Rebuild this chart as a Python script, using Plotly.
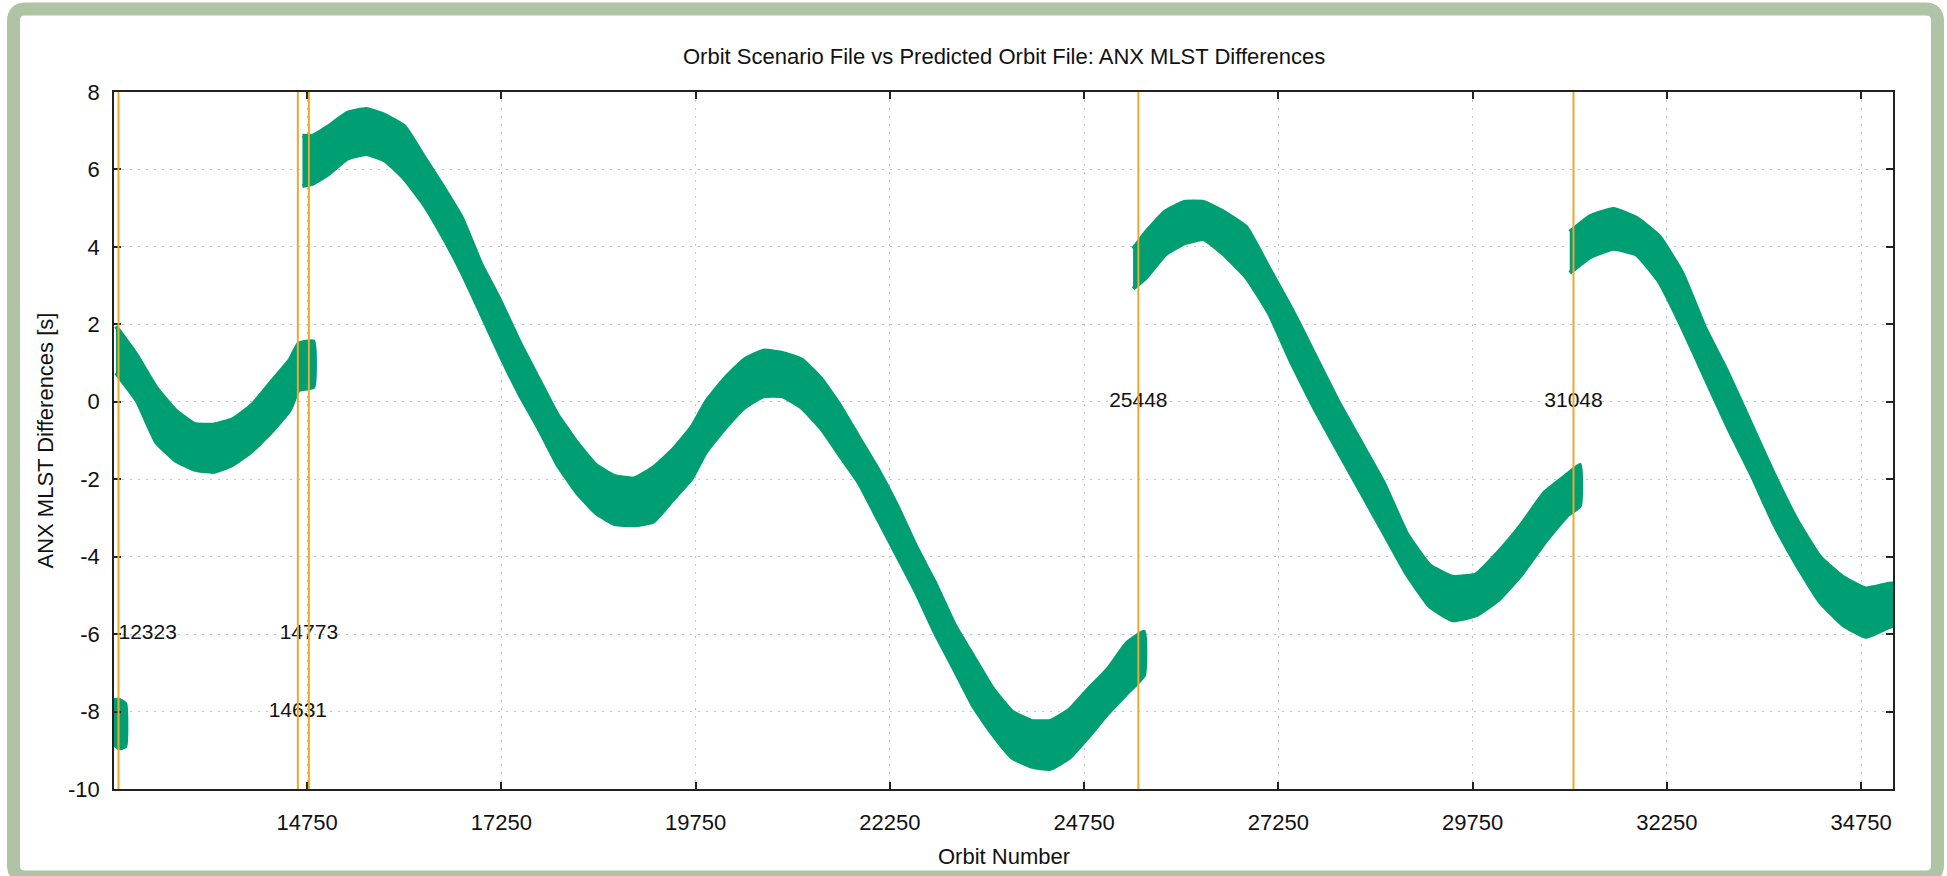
import plotly.graph_objects as go

# ---------------- data ----------------
title_text = "Orbit Scenario File vs Predicted Orbit File: ANX MLST Differences"
x_title = "Orbit Number"
y_title = "ANX MLST Differences [s]"

x_tick_vals = [14750, 17250, 19750, 22250, 24750, 27250, 29750, 32250, 34750]
y_tick_vals = [-10, -8, -6, -4, -2, 0, 2, 4, 6, 8]

# orbit numbers of the vertical event markers and their labels
event_orbits = [12323, 14631, 14773, 25448, 31048]
event_labels = ["12323", "14631", "14773", "25448", "31048"]
event_label_y = [-6, -8, -6, 0, 0]

# envelope of the (oscillating) difference band, segment by segment
seg_a_x = [12265, 12330, 12410]
seg_a_hi = [-7.70, -7.70, -7.80]
seg_a_lo = [-8.85, -8.95, -8.90]

seg_b_x = [12290, 12560, 12806, 13052, 13298, 13544, 13790, 14036, 14282, 14529, 14640, 14830]
seg_b_hi = [1.95, 1.20, 0.38, -0.21, -0.57, -0.59, -0.45, -0.09, 0.50, 1.09, 1.50, 1.56]
seg_b_lo = [0.75, 0.02, -1.04, -1.51, -1.75, -1.81, -1.63, -1.28, -0.80, -0.21, 0.30, 0.38]

seg_c_x = [14690, 14824, 15021, 15267, 15513, 15759, 16005, 16251, 16497, 16743, 16989,
           17235, 17481, 17727, 17973, 18219, 18465, 18711, 18957, 19204, 19450, 19700,
           19883, 20129, 20376, 20622, 20868, 21115, 21361, 21607, 21853, 22100, 22346,
           22592, 22839, 23085, 23331, 23577, 23823, 24070, 24316, 24562, 24808, 25055,
           25301, 25520]
seg_c_hi = [6.87, 6.87, 7.11, 7.46, 7.56, 7.40, 7.11, 6.34, 5.57, 4.75, 3.57,
            2.62, 1.56, 0.61, -0.33, -1.04, -1.63, -1.92, -1.98, -1.70, -1.25, -0.65,
            0.00, 0.61, 1.09, 1.32, 1.26, 1.09, 0.61, -0.09, -0.92, -1.75, -2.69,
            -3.75, -4.70, -5.76, -6.59, -7.41, -8.00, -8.24, -8.24, -7.95, -7.41, -6.90,
            -6.23, -5.94]
seg_c_lo = [5.57, 5.63, 5.87, 6.28, 6.40, 6.22, 5.75, 5.10, 4.27, 3.33, 2.27,
            1.20, 0.20, -0.68, -1.63, -2.34, -2.87, -3.16, -3.19, -3.10, -2.55, -1.98,
            -1.30, -0.68, -0.15, 0.14, 0.14, -0.15, -0.68, -1.39, -2.10, -3.05, -3.99,
            -4.94, -6.00, -6.94, -7.89, -8.60, -9.19, -9.42, -9.48, -9.19, -8.65, -8.05,
            -7.53, -7.06]

seg_d_x = [25380, 25548, 25794, 26040, 26287, 26533, 26837, 27132, 27427, 27723, 28018,
           28313, 28609, 28904, 29199, 29494, 29790, 30085, 30380, 30676, 30971, 31130]
seg_d_hi = [3.95, 4.39, 4.92, 5.16, 5.16, 4.92, 4.51, 3.45, 2.38, 1.20, 0.02,
            -1.04, -2.10, -3.40, -4.22, -4.52, -4.46, -3.87, -3.16, -2.34, -1.87, -1.63]
seg_d_lo = [2.92, 3.21, 3.80, 4.09, 4.20, 3.83, 3.21, 2.27, 0.97, -0.21, -1.28,
            -2.34, -3.40, -4.46, -5.29, -5.64, -5.52, -5.11, -4.46, -3.64, -2.93, -2.69]

seg_e_x = [31000, 31267, 31562, 31857, 32153, 32448, 32743, 33039, 33334, 33629, 33924,
           34220, 34515, 34809, 35106, 35200]
seg_e_hi = [4.39, 4.80, 4.98, 4.75, 4.27, 3.33, 1.91, 0.73, -0.57, -1.87, -3.05,
            -4.00, -4.52, -4.82, -4.70, -4.70]
seg_e_lo = [3.33, 3.74, 3.95, 3.80, 3.09, 1.91, 0.61, -0.68, -1.87, -3.16, -4.23,
            -5.17, -5.76, -6.07, -5.82, -5.76]

x_range = [12265, 35160]
y_range = [-10, 8]

# ---------------- styling ----------------
GREEN = "#009e73"
ORANGE = "#ecaa2c"
FRAME = "#afc4a5"
FONT = "Liberation Sans, Arial, Helvetica, sans-serif"
FS = 22
W, H = 1947, 876
ML, MR, MT, MB = 114, 54, 92, 87
PW, PH = W - ML - MR, H - MT - MB


def px(xpix):
    return (xpix - ML) / PW


def py(ypix):
    return (H - MB - ypix) / PH


fig = go.Figure()

segments = [
    (seg_a_x, seg_a_hi, seg_a_lo),
    (seg_b_x, seg_b_hi, seg_b_lo),
    (seg_c_x, seg_c_hi, seg_c_lo),
    (seg_d_x, seg_d_hi, seg_d_lo),
    (seg_e_x, seg_e_hi, seg_e_lo),
]
for sx, hi, lo in segments:
    fig.add_trace(go.Scatter(
        x=list(sx) + list(sx)[::-1],
        y=list(hi) + list(lo)[::-1],
        mode="lines",
        fill="toself",
        fillcolor=GREEN,
        line=dict(color=GREEN, width=4, shape="spline", smoothing=0.4),
        hoverinfo="skip",
        showlegend=False,
    ))

# event labels (text drawn beneath the orange lines)
fig.add_trace(go.Scatter(
    x=event_orbits,
    y=event_label_y,
    mode="text",
    text=event_labels,
    textposition=["middle right", "middle center", "middle center", "middle center", "middle center"],
    textfont=dict(family=FONT, size=FS - 1, color="#111111"),
    cliponaxis=False,
    showlegend=False,
    hoverinfo="skip",
))

for xo in event_orbits:
    fig.add_shape(type="line", xref="x", yref="paper", x0=xo, x1=xo, y0=0, y1=1,
                  line=dict(color=ORANGE, width=2), layer="above")

# green rounded frame around the whole picture
L, R, T, B, r = 13.5, 1937.5, 9.0, 877.0, 12.0
pts = [
    ("M", (L + r, T)), ("L", (R - r, T)), ("Q", (R, T), (R, T + r)),
    ("L", (R, B - r)), ("Q", (R, B), (R - r, B)),
    ("L", (L + r, B)), ("Q", (L, B), (L, B - r)),
    ("L", (L, T + r)), ("Q", (L, T), (L + r, T)),
]
path = ""
for item in pts:
    cmd = item[0]
    coords = " ".join(f"{px(a):.5f},{py(b):.5f}" for a, b in item[1:])
    path += f"{cmd}{coords} "
path += "Z"
fig.add_shape(type="path", xref="paper", yref="paper", path=path,
              line=dict(color=FRAME, width=13), fillcolor="rgba(0,0,0,0)", layer="above")

axis_common = dict(
    showline=True, linecolor="#222222", linewidth=1.5, mirror="ticks",
    ticks="inside", ticklen=7, tickwidth=1.5, tickcolor="#222222",
    showgrid=True, gridcolor="#c4c4c4", gridwidth=1, griddash="2px,6px",
    zeroline=False,
    tickfont=dict(family=FONT, size=FS, color="#111111"),
)

fig.update_xaxes(range=x_range, tickvals=x_tick_vals,
                 ticktext=[str(v) for v in x_tick_vals],
                 ticklabelstandoff=13, **axis_common)
fig.update_yaxes(range=y_range, tickvals=y_tick_vals,
                 ticktext=[str(v) for v in y_tick_vals],
                 ticklabelstandoff=8, **axis_common)

fig.update_layout(
    width=W, height=H,
    margin=dict(l=ML, r=MR, t=MT, b=MB, autoexpand=False),
    paper_bgcolor="white", plot_bgcolor="white",
    showlegend=False,
    annotations=[
        dict(text=title_text, xref="paper", yref="paper", x=0.5, y=py(57),
             xanchor="center", yanchor="middle", showarrow=False,
             font=dict(family=FONT, size=FS, color="#111111")),
        dict(text=x_title, xref="paper", yref="paper", x=0.5, y=py(856),
             xanchor="center", yanchor="middle", showarrow=False,
             font=dict(family=FONT, size=FS, color="#111111")),
        dict(text=y_title, xref="paper", yref="paper", x=px(45), y=0.5,
             xanchor="center", yanchor="middle", showarrow=False, textangle=-90,
             font=dict(family=FONT, size=FS, color="#111111")),
    ],
)

fig.write_html(
    "out.html",
    config={"displayModeBar": False},
    post_script="document.body.style.margin='0';document.body.style.overflow='hidden';",
)
